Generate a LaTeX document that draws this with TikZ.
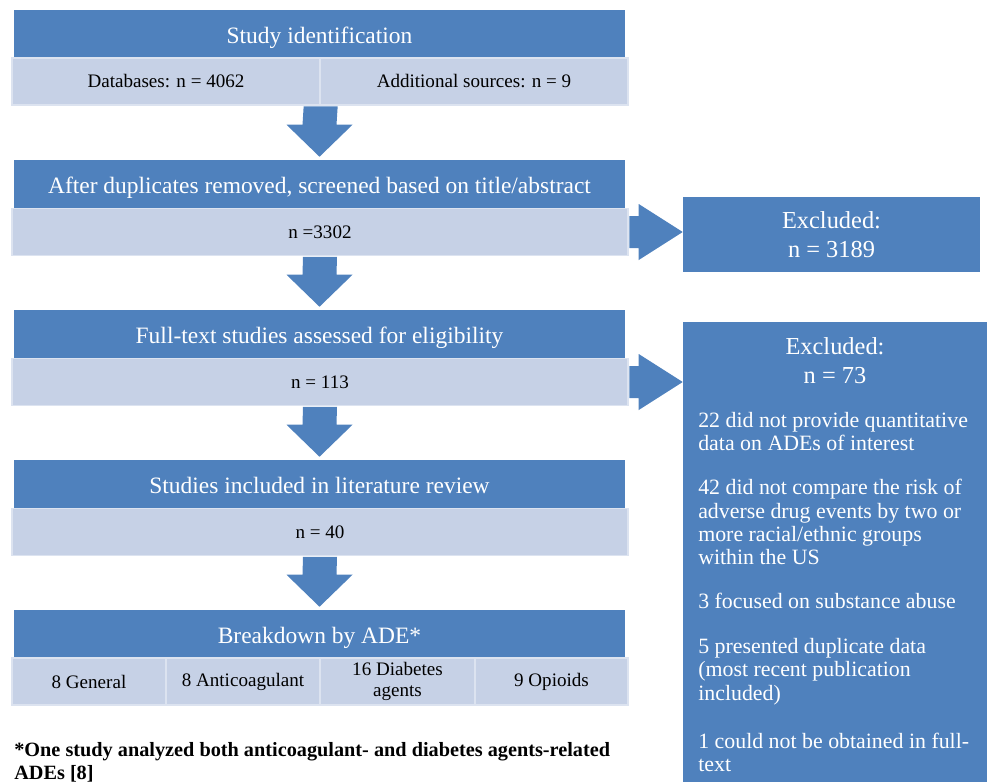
\documentclass[tikz,border=0pt]{standalone}
\usepackage{fontspec}
\setmainfont{Liberation Serif}
\usetikzlibrary{calc,positioning}
\definecolor{hdrblue}{HTML}{4F81BD}
\definecolor{subblue}{HTML}{C6D1E6}
\definecolor{subline}{HTML}{DCE3F0}
\newcommand{\pxu}{0.75pt}

\begin{document}
\begin{tikzpicture}
  [
    x=0.75pt, y=-0.75pt,
    Head/.style={rectangle, fill=hdrblue, text=white, inner sep=0pt, minimum width=611*\pxu, minimum height=48*\pxu, text height=14.2pt, text depth=0pt, font=\fontsize{17.6}{21}\selectfont},
    Cell/.style={rectangle, fill=subblue, draw=subline, line width=1pt, inner sep=0pt, minimum height=47*\pxu, align=center, font=\fontsize{14.3}{16}\selectfont},
    Excl/.style={rectangle, fill=hdrblue, inner sep=0pt},
    ExclText/.style={text=white, align=center, font=\fontsize{18.3}{21.75}\selectfont},
    BlockArrow/.style={fill=hdrblue}
  ]
  \useasboundingbox (0,0) rectangle (987,782);
  % Main column
  \node[Head] (h1) at (319.5, 34) {Study identification};
  \node[Cell, minimum width=308*\pxu] (s1a) at (166, 81.5) {Databases: n = 4062};
  \node[Cell, minimum width=308*\pxu] (s1b) at (474, 81.5) {Additional sources: n = 9};
  \node[Head] (h2) at (319.5, 184) {After duplicates removed, screened based on title/abstract};
  \node[Cell, minimum width=616*\pxu] (s2) at (320, 232) {n =3302};
  \node[Head] (h3) at (319.5, 334) {Full-text studies assessed for eligibility};
  \node[Cell, minimum width=616*\pxu] (s3) at (320, 382) {n = 113};
  \node[Head] (h4) at (319.5, 484) {Studies included in literature review};
  \node[Cell, minimum width=616*\pxu] (s4) at (320, 532) {n = 40};
  \node[Head] (h5) at (319.5, 634) {Breakdown by ADE*};
  \node[Cell, minimum width=154*\pxu] (s5a) at (89, 681.5) {8 General};
  \node[Cell, minimum width=154*\pxu] (s5b) at (243, 681.5) {8 Anticoagulant};
  \node[Cell, minimum width=155*\pxu] (s5c) at (397.5, 681.5) {16 Diabetes\\ agents};
  \node[Cell, minimum width=153*\pxu] (s5d) at (551.5, 681.5) {9 Opioids};
  % Excluded boxes
  \node[Excl, minimum width=297*\pxu, minimum height=75*\pxu] (ex1) at (831.5, 234.5) {};
  \node[ExclText] (ex1t) at (ex1.center) {Excluded:\\ n = 3189};
  \node[Excl, minimum width=304*\pxu, minimum height=460*\pxu] (ex2) at (835, 552) {};
  \node[ExclText] (ex2t) at (835, 361) {Excluded:\\ n = 73};
  \node[anchor=north west, inner sep=0pt, text=white, align=left, font=\fontsize{16.4}{17.5}\selectfont] (reasons) at (698, 412)
    {22 did not provide quantitative\\ data on ADEs of interest\\[15.5pt]
     42 did not compare the risk of\\ adverse drug events by two or\\ more racial/ethnic groups\\ within the US\\[15pt]
     3 focused on substance abuse\\[16.5pt]
     5 presented duplicate data\\ (most recent publication\\ included)\\[18.5pt]
     1 could not be obtained in full-\\ text};
  % Arrows to the right
  \foreach \a/\b in {s2/ex1, s3/ex2} {
    \coordinate (tip) at (\b.west |- \a.east);
    \fill[BlockArrow] ($(\a.east)+(0.6,-16)$) -- ($(tip)+(-44,-16)$) -- ($(tip)+(-44,-28)$) -- (tip)
      -- ($(tip)+(-44,28)$) -- ($(tip)+(-44,16)$) -- ($(\a.east)+(0.6,16)$) -- cycle;
  }
  % Arrows down
  \foreach \a/\b in {s1a.south east/h2.north, s2.south/h3.north, s3.south/h4.north, s4.south/h5.north} {
    \coordinate (tip) at ($(\b)+(0,-3)$);
    \fill[BlockArrow] ($(\a)+(-17,0.6)$) -- ($(tip)+(-17,-32)$) -- ($(tip)+(-33,-32)$) -- (tip)
      -- ($(tip)+(33,-32)$) -- ($(tip)+(17,-32)$) -- ($(\a)+(17,0.6)$) -- cycle;
  }
  % Footnote
  \node[anchor=north west, inner sep=0pt, align=left, font=\bfseries\fontsize{15.2}{17.3}\selectfont] (note) at (14, 742)
    {*One study analyzed both anticoagulant- and diabetes agents-related\\ ADEs [8]};
\end{tikzpicture}
\end{document}
